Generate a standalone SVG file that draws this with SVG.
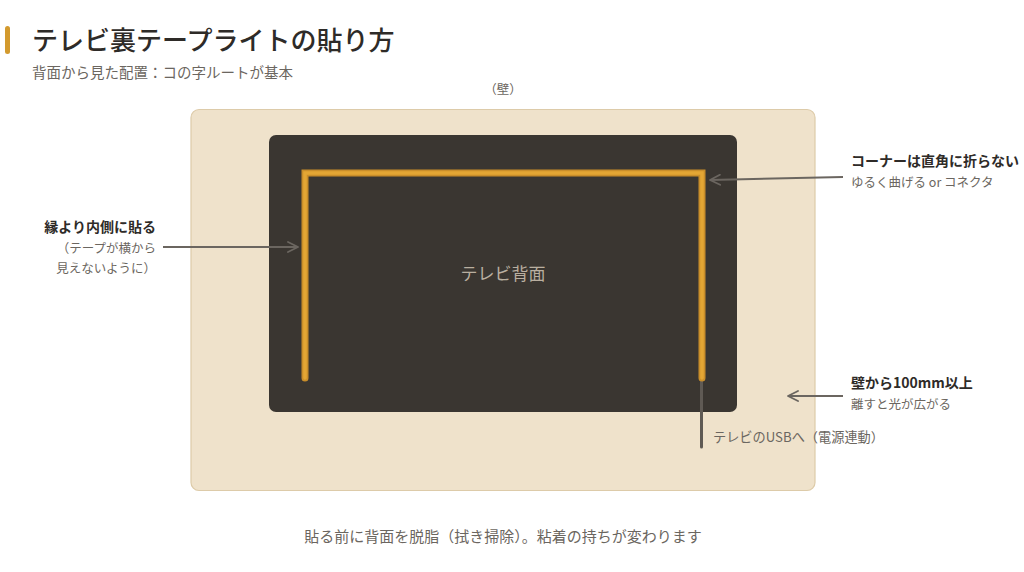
<svg xmlns="http://www.w3.org/2000/svg" width="1024" height="572" viewBox="0 0 1024 572">
<defs>
<style>
text{font-family:"Noto Sans CJK JP","Noto Sans",sans-serif;}
.title{font-size:26px;font-weight:500;fill:#2e2b28;}
.sub{font-size:14.5px;fill:#6b6660;}
.lbl{font-size:14px;font-weight:700;fill:#2e2b28;}
.note{font-size:12.5px;fill:#6b6660;}
.conn{stroke:#6b6660;stroke-width:2;fill:none;}
</style>
<marker id="arr" viewBox="0 0 12 12" refX="11" refY="6" markerWidth="12" markerHeight="12" markerUnits="userSpaceOnUse" orient="auto">
<path d="M1,1 L11,6 L1,11" fill="none" stroke="#6b6660" stroke-width="1.8" stroke-linecap="round" stroke-linejoin="round"/>
</marker>
</defs>
<rect width="1024" height="572" fill="#ffffff"/>
<g id="header">
<rect x="5" y="26" width="5" height="28" rx="2.5" fill="#d39a2e"/>
<text class="title" x="32" y="50">テレビ裏テープライトの貼り方</text>
<text class="sub" x="32" y="78">背面から見た配置：コの字ルートが基本</text>
</g>
<g id="wall">
<text class="note" x="503" y="94" text-anchor="middle">（壁）</text>
<rect x="191" y="109.5" width="624" height="381" rx="8" fill="#efe2cb" stroke="#ddcba9" stroke-width="1.2"/>
</g>
<g id="tv">
<rect x="269" y="135" width="468" height="277" rx="7" fill="#3a3631"/>
<text x="503" y="280" text-anchor="middle" font-size="17" fill="#b9afa0">テレビ背面</text>
</g>
<g id="cable">
<line x1="701.5" y1="378" x2="701.5" y2="447" stroke="#5f5a54" stroke-width="3" stroke-linecap="round"/>
<text x="713" y="442" font-size="13.2" fill="#6b6660">テレビのUSBへ（電源連動）</text>
</g>
<g id="led-strip">
<path d="M305,378 L305,173 L702,173 L702,378" fill="none" stroke="#c98e2a" stroke-width="7" stroke-linecap="round" stroke-linejoin="miter"/>
<path d="M305,378 L305,173 L702,173 L702,378" fill="none" stroke="#e3a634" stroke-width="3.5" stroke-linecap="round" stroke-linejoin="miter"/>
</g>
<g id="connectors">
<line class="conn" x1="163" y1="247" x2="298" y2="247" marker-end="url(#arr)"/>
<line class="conn" x1="843" y1="177" x2="710" y2="180" marker-end="url(#arr)"/>
<line class="conn" x1="843" y1="396" x2="788" y2="396" marker-end="url(#arr)"/>
</g>
<g id="label-edge">
<text class="lbl" x="156" y="232" text-anchor="end">縁より内側に貼る</text>
<text class="note" x="156" y="253" text-anchor="end">（テープが横から</text>
<text class="note" x="156" y="273" text-anchor="end">見えないように）</text>
</g>
<g id="label-corner">
<text class="lbl" x="851" y="166">コーナーは直角に折らない</text>
<text class="note" x="851" y="187">ゆるく曲げる or コネクタ</text>
</g>
<g id="label-distance">
<text class="lbl" x="851" y="388">壁から100mm以上</text>
<text class="note" x="851" y="409">離すと光が広がる</text>
</g>
<g id="footer">
<text x="503" y="542" text-anchor="middle" font-size="15" fill="#6b6660">貼る前に背面を脱脂（拭き掃除）。粘着の持ちが変わります</text>
</g>
</svg>
